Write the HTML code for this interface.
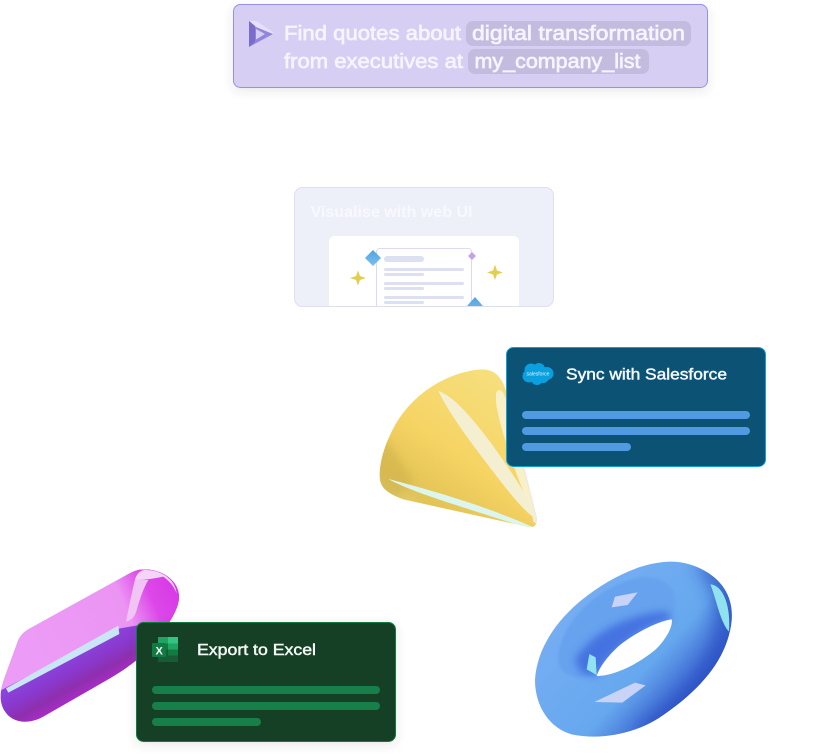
<!DOCTYPE html>
<html><head><meta charset="utf-8">
<style>
html,body{margin:0;padding:0;background:#fff;width:818px;height:754px;overflow:hidden}
svg{display:block}
text{font-family:"Liberation Sans",sans-serif}
</style></head><body>
<svg width="818" height="754" viewBox="0 0 818 754" xmlns="http://www.w3.org/2000/svg">
<defs>
<filter id="sh" x="-10%" y="-20%" width="120%" height="150%"><feDropShadow dx="0" dy="3" stdDeviation="5" flood-color="#444" flood-opacity=".12"/></filter>
<filter id="b1" x="-30%" y="-30%" width="160%" height="160%"><feGaussianBlur stdDeviation="4"/></filter>
<filter id="b2" x="-30%" y="-30%" width="160%" height="160%"><feGaussianBlur stdDeviation="12"/></filter>
<filter id="b3" x="-30%" y="-30%" width="160%" height="160%"><feGaussianBlur stdDeviation="24"/></filter>
<linearGradient id="dia" x1="0" y1="0" x2="0" y2="1"><stop offset="0" stop-color="#4fa3e3"/><stop offset="1" stop-color="#7cc0f0"/></linearGradient>
<linearGradient id="cone" x1="0.75" y1="0.05" x2="0.1" y2="0.95"><stop offset="0" stop-color="#f6e080"/><stop offset=".5" stop-color="#f6d464"/><stop offset=".78" stop-color="#e2c355"/><stop offset="1" stop-color="#d8d68a"/></linearGradient>
<linearGradient id="pillTop" gradientUnits="userSpaceOnUse" x1="80" y1="300" x2="530" y2="100"><stop offset="0" stop-color="#ec9cf6"/><stop offset=".68" stop-color="#ec94f4"/><stop offset=".85" stop-color="#dc48e8"/><stop offset="1" stop-color="#d83be6"/></linearGradient>
<linearGradient id="pillBot" gradientUnits="userSpaceOnUse" x1="190" y1="300" x2="253" y2="414"><stop offset="0" stop-color="#8a43dc"/><stop offset=".35" stop-color="#8a38cc"/><stop offset=".65" stop-color="#8e2fae"/><stop offset="1" stop-color="#b02bcc"/></linearGradient>
<linearGradient id="tor" x1="0.1" y1="0.2" x2="0.9" y2="0.85"><stop offset="0" stop-color="#79aef4"/><stop offset=".6" stop-color="#66a8ee"/><stop offset=".85" stop-color="#3a62d0"/><stop offset="1" stop-color="#3c6fd8"/></linearGradient>
<clipPath id="torClip"><path d="M440,35 C490,35 555,60 590,105 C625,150 632,210 600,290 C570,365 500,440 400,505 C320,555 220,570 140,553 C75,535 30,470 30,390 C35,300 90,215 170,150 C250,85 350,35 440,35Z"/></clipPath>
<clipPath id="coneClip"><path d="M335,88 C250,92 130,150 70,265 C38,325 25,385 30,420 C35,450 65,465 100,478 L470,560 Q505,568 500,530 L425,230 C410,140 395,88 335,88Z"/></clipPath>
<clipPath id="pillClip"><path d="M432,28 C490,28 540,65 537,115 C535,150 505,195 470,240 C440,280 390,320 330,355 L130,470 C85,495 35,490 12,450 C-5,420 2,385 15,350 L55,240 C65,220 80,210 100,200 L380,45 C400,33 415,28 432,28Z"/></clipPath>
<clipPath id="innerClip"><rect x="295" y="188" width="258" height="118" rx="7"/></clipPath>
</defs>

<rect x="259" y="84" width="2" height="8" fill="#fff"/><rect x="423" y="84" width="2" height="8" fill="#fff"/><rect x="640" y="84" width="2" height="8" fill="#fff"/>

<rect x="233.5" y="4.5" width="474" height="83" rx="7" fill="#d6cff3" stroke="#9b8de8" filter="url(#sh)"/>
<rect x="466" y="21" width="225" height="25" rx="7" fill="#c3bcde"/>
<rect x="468" y="49" width="181" height="25" rx="7" fill="#c3bcde"/>
<g>
<path d="M249,21 L262,27 L273,34 L249,47Z" fill="#9186dc"/>
<path d="M249,21 L256,21 L273,32 L273,34 L256,27Z" fill="#e6e1fb"/>
<path d="M249,21 L255,26 L255,42 L249,47Z" fill="#7a6cc8"/>
<path d="M256,29 L265,34 L256,39.500Z" fill="#d6cff3"/>
</g>
<g fill="#f7f4ff" font-size="20" stroke="#f7f4ff" stroke-width=".65">
<text x="284" y="40" textLength="177" lengthAdjust="spacingAndGlyphs">Find quotes about</text>
<text x="472" y="40" textLength="213" lengthAdjust="spacingAndGlyphs">digital transformation</text>
<text x="284" y="68" textLength="179" lengthAdjust="spacingAndGlyphs">from executives at</text>
<text x="474.5" y="68" textLength="166" lengthAdjust="spacingAndGlyphs">my_company_list</text>
</g>

<rect x="294.5" y="187.5" width="259" height="119" rx="8" fill="#eef0f9" stroke="#dcdff2"/>
<text x="310.5" y="217" font-size="16" font-weight="700" fill="#f8f9fe" textLength="162" lengthAdjust="spacingAndGlyphs">Visualise with web UI</text>
<g clip-path="url(#innerClip)">
<rect x="329" y="236" width="190" height="90" rx="6" fill="#fff"/>
<rect x="376.5" y="248.5" width="95" height="70" rx="3" fill="#fff" stroke="#d9dcf0"/>
<rect x="384" y="256" width="40" height="6" rx="3" fill="#dde0f2"/>
<rect x="384" y="268" width="80" height="3" rx="1.5" fill="#dde0f2"/><rect x="384" y="273" width="40" height="3" rx="1.5" fill="#dde0f2"/>
<rect x="384" y="282" width="80" height="3" rx="1.5" fill="#dde0f2"/><rect x="384" y="287" width="40" height="3" rx="1.5" fill="#dde0f2"/>
<rect x="384" y="296" width="80" height="3" rx="1.5" fill="#dde0f2"/><rect x="384" y="301" width="40" height="3" rx="1.5" fill="#dde0f2"/>
<path d="M373,250 L381,258 L373,266 L365,258Z" fill="url(#dia)"/>
<path d="M475,297 L483,306 L475,315 L467,306Z" fill="url(#dia)"/>
<path d="M472,252 L476,256 L472,260 L468,256Z" fill="#c6a3e6"/>
<path d="M358,270.500 L360,276 L366,278 L360,280 L358,285.500 L356,280 L350,278 L356,276Z" fill="#e2cf4f"/>
<path d="M495,264.500 L497,270.500 L503,272.500 L497,274.500 L495,280 L493,274.500 L487,272.500 L493,270.500Z" fill="#e2cf4f"/>
</g>

<g transform="translate(370,340) scale(.33333)">
<g clip-path="url(#coneClip)">
<rect x="0" y="60" width="540" height="520" fill="url(#cone)"/>
<path d="M20,310 C40,260 80,350 130,420 L70,480 L20,450Z" fill="#c9ad4a" filter="url(#b2)" opacity=".45"/>
<path d="M410,120 L445,120 L510,560 L490,545 Z" fill="#ecebe6"/>
<path d="M378,160 C385,140 402,150 412,190 L500,545 C460,470 385,260 378,185Z" fill="#f7f0c8"/>
<path d="M205,153 C245,165 300,225 360,305 C425,395 488,490 497,535 C475,525 435,480 385,415 C320,330 245,235 205,153Z" fill="#f5efd2"/>
<path d="M55,417 C150,442 330,490 490,562 L460,560 C310,510 130,460 55,417Z" fill="#dcf6ee"/>
</g>
</g>

<rect x="506.500" y="347.500" width="259" height="119" rx="7" fill="#0b5274" stroke="#0aa2d8"/>
<g fill="#0a9fdf">
<circle cx="531" cy="370" r="6.500"/><circle cx="539" cy="369" r="6"/><circle cx="547" cy="373.500" r="6.500"/>
<circle cx="529" cy="376" r="6.500"/><circle cx="537" cy="379" r="6"/><circle cx="543" cy="377" r="6"/>
</g>
<text x="526.500" y="375.500" font-size="5" fill="#e8f6ff" textLength="23" lengthAdjust="spacingAndGlyphs">salesforce</text>
<text x="566" y="379.500" font-size="15.500" fill="#f4f8fb" stroke="#f4f8fb" stroke-width=".45" textLength="161" lengthAdjust="spacingAndGlyphs">Sync with Salesforce</text>
<rect x="522" y="411" width="228" height="8" rx="4" fill="#4f9ae0"/>
<rect x="522" y="427" width="228" height="8" rx="4" fill="#4f9ae0"/>
<rect x="522" y="443" width="109" height="8" rx="4" fill="#4f9ae0"/>

<g transform="translate(0,560) scale(.33333)">
<g clip-path="url(#pillClip)">
<rect x="-5" y="20" width="560" height="480" fill="url(#pillBot)"/>
<path d="M-5,395 L360,205 L420,195 L560,190 L560,0 L300,0 L0,200Z" fill="url(#pillTop)"/>
<path d="M18,385 L355,197 L358,222 L25,398Z" fill="#c9e6f5"/>
<path d="M405,58 C395,100 385,150 378,185 C395,180 405,170 410,150 C420,115 430,85 445,60 Z" fill="#f2c4f6"/>
<path d="M405,58 C430,62 465,55 490,50 C510,65 522,80 530,100 C525,55 480,28 432,30 C420,32 410,42 405,58Z" fill="#f6d4f8"/>
</g>
</g>

<rect x="136.500" y="622.500" width="259" height="119" rx="7" fill="#143f28" stroke="#107c41" filter="url(#sh)"/>
<rect x="158" y="637" width="20" height="25" rx="1" fill="#185c37"/>
<rect x="168" y="637" width="10" height="6.500" fill="#33c481"/>
<rect x="158" y="637" width="10" height="6.500" fill="#21a366"/>
<rect x="158" y="643.500" width="10" height="6" fill="#107c41"/><rect x="168" y="643.500" width="10" height="6" fill="#21a366"/>
<rect x="168" y="649.500" width="10" height="6" fill="#107c41"/>
<rect x="152" y="643" width="14" height="14" rx="1" fill="#107c41"/>
<text x="155.500" y="654.500" font-size="11" font-weight="700" fill="#fff">X</text>
<text x="197" y="655" font-size="15.500" fill="#f4f8f5" stroke="#f4f8f5" stroke-width=".45" textLength="119" lengthAdjust="spacingAndGlyphs">Export to Excel</text>
<rect x="152" y="686" width="228" height="8" rx="4" fill="#17804a"/>
<rect x="152" y="702" width="228" height="8" rx="4" fill="#17804a"/>
<rect x="152" y="718" width="109" height="8" rx="4" fill="#17804a"/>

<g transform="translate(525,550) scale(.33333)">
<path d="M440,35 C490,35 555,60 590,105 C625,150 632,210 600,290 C570,365 500,440 400,505 C320,555 220,570 140,553 C75,535 30,470 30,390 C35,300 90,215 170,150 C250,85 350,35 440,35Z" fill="url(#tor)"/>
<g clip-path="url(#torClip)">
<path d="M500,40 C580,100 590,220 540,320 C490,410 420,470 320,535 L430,560 L660,400 L660,40Z" fill="#2a4fc2" filter="url(#b3)" opacity=".7"/>
<path d="M100,320 C105,230 200,120 330,85 C410,70 460,110 450,170 C430,250 300,340 200,378 C130,390 95,365 100,320Z" fill="#66a2ee" filter="url(#b1)"/>
<path d="M150,330 C190,260 290,195 420,185 L445,205 C360,225 265,290 215,378 L170,370Z" fill="#3f6ade" filter="url(#b2)" opacity=".85"/>
<path d="M556,103 C595,105 618,170 612,245 C585,215 575,150 556,103Z" fill="#8fe2ee"/>
<path d="M270,140 L338,127 L308,165 L260,172Z" fill="#c9d3f7"/>
<path d="M208,456 L330,398 L362,406 L292,458Z" fill="#c9d3f7"/>
<path d="M193,312 L212,322 L215,375 L185,358Z" fill="#8fe2ee"/>
</g>
<path d="M215,378 C265,378 335,345 390,300 C425,268 445,225 440,208 C405,212 335,245 285,285 C245,320 222,355 215,378Z" fill="#fff"/>
</g>
</svg>
</body></html>
